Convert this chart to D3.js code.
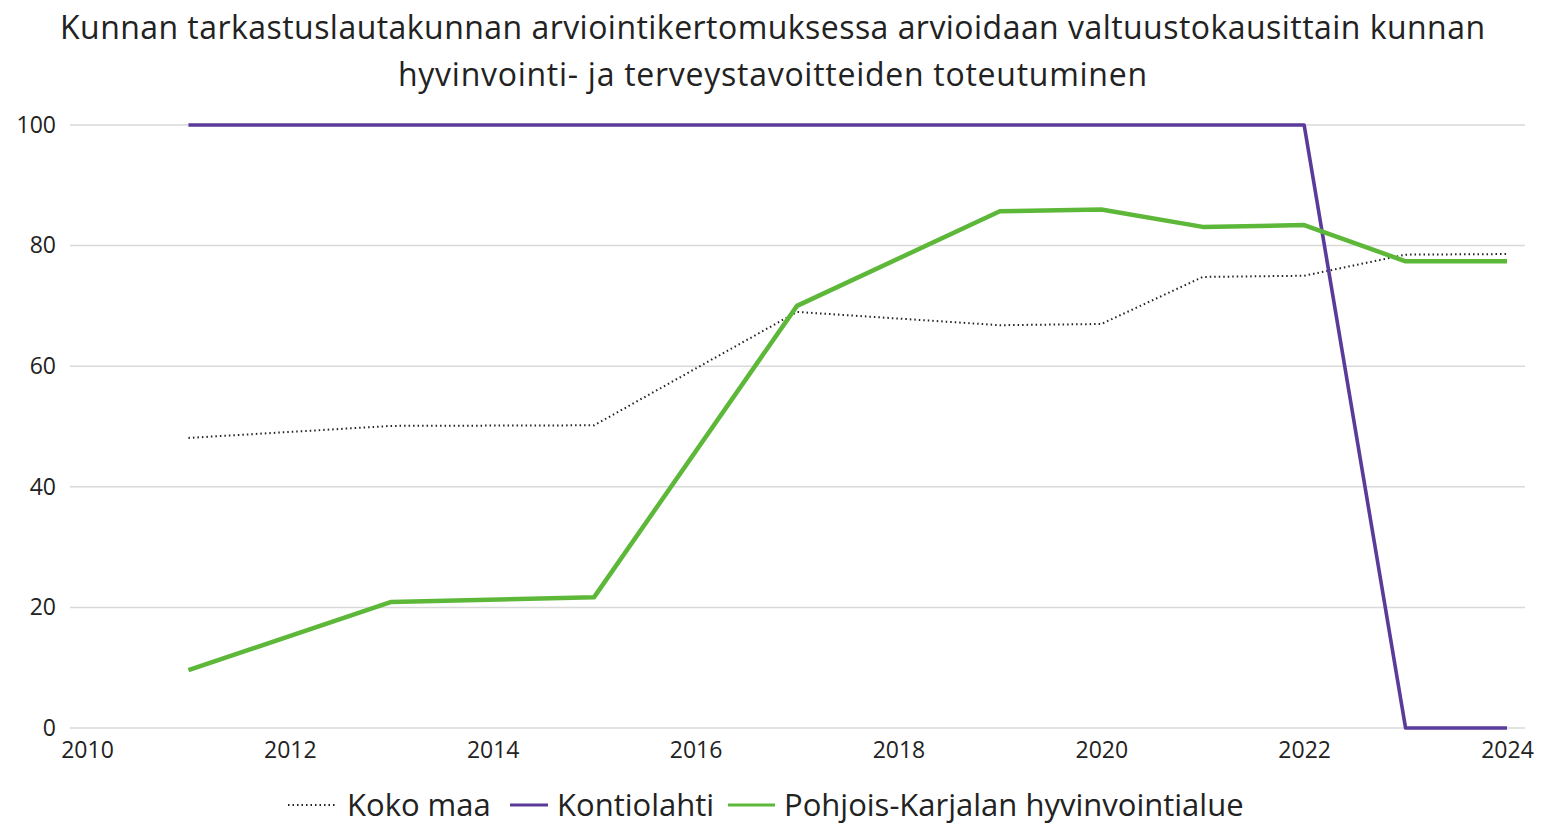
<!DOCTYPE html>
<html>
<head>
<meta charset="utf-8">
<script src="https://cdn.jsdelivr.net/npm/d3@7"></script>
<style>
  body { margin: 0; background: #fff; }
  text { font-family: "Open Sans", "Noto Sans", sans-serif; fill: #222; }
</style>
</head>
<body>
<svg id="chart_svg"></svg>
<script>
// Data
var years_koko = [2011, 2013, 2015, 2017, 2019, 2020, 2021, 2022, 2023, 2024];
var koko_maa = [48.1, 50.1, 50.2, 69.0, 66.8, 67.0, 74.8, 75.0, 78.5, 78.6];

var years_kontio = [2011, 2013, 2015, 2017, 2019, 2020, 2021, 2022, 2023, 2024];
var kontiolahti = [100, 100, 100, 100, 100, 100, 100, 100, 0, 0];

var years_pk = [2011, 2013, 2015, 2017, 2019, 2020, 2021, 2022, 2023, 2024];
var pohjois_karjala = [9.6, 20.9, 21.7, 70.0, 85.7, 86.0, 83.1, 83.4, 77.4, 77.4];

var x_ticks = [2010, 2012, 2014, 2016, 2018, 2020, 2022, 2024];
var y_ticks = [0, 20, 40, 60, 80, 100];

var title_lines = [
    "Kunnan tarkastuslautakunnan arviointikertomuksessa arvioidaan valtuustokausittain kunnan",
    "hyvinvointi- ja terveystavoitteiden toteutuminen"
];

var series = [
    { name: "Koko maa", years: years_koko, values: koko_maa, color: "#222", width: 2, dash: "1.5,3" },
    { name: "Kontiolahti", years: years_kontio, values: kontiolahti, color: "#5a3b9a", width: 3.6, dash: null },
    { name: "Pohjois-Karjalan hyvinvointialue", years: years_pk, values: pohjois_karjala, color: "#5db83a", width: 4.5, dash: null }
];

var width = 1545, height = 826;
var grid_left = 70, grid_right = 1525;

var svg = d3.select('#chart_svg')
    .attr('width', width)
    .attr('height', height);

var x = d3.scaleLinear().domain([2010, 2024]).range([87, 1507]);
var y = d3.scaleLinear().domain([0, 100]).range([728, 125]);

// Title
var title_widths = [1425, 749];
svg.selectAll('.title')
    .data(title_lines)
    .enter()
    .append('text')
      .attr('class', 'title')
      .attr('x', width / 2)
      .attr('y', function(d, i) { return 39 + i * 47; })
      .attr('text-anchor', 'middle')
      .attr('font-size', '32px')
      .attr('textLength', function(d, i) { return title_widths[i]; })
      .attr('lengthAdjust', 'spacing')
      .text(function(d) { return d; });

// Gridlines
svg.selectAll('.grid')
    .data(y_ticks)
    .enter()
    .append('line')
      .attr('x1', grid_left)
      .attr('x2', grid_right)
      .attr('y1', function(d) { return y(d); })
      .attr('y2', function(d) { return y(d); })
      .attr('stroke', '#d9d9d9')
      .attr('stroke-width', 1.5);

// Y axis labels
var yAxis = d3.axisLeft(y).tickValues(y_ticks).tickSize(0).tickPadding(0);
var gy = svg.append('g')
    .attr('transform', 'translate(56,0)')
    .call(yAxis);
gy.select('.domain').remove();
gy.selectAll('text').attr('font-size', '23px').attr('font-family', '"Open Sans", "Noto Sans", sans-serif').attr('fill', '#222');

// X axis labels
var xAxis = d3.axisBottom(x).tickValues(x_ticks).tickFormat(d3.format('d')).tickSize(0).tickPadding(0);
var gx = svg.append('g')
    .attr('transform', 'translate(0,742)')
    .call(xAxis);
gx.select('.domain').remove();
gx.selectAll('text').attr('font-size', '23px').attr('font-family', '"Open Sans", "Noto Sans", sans-serif').attr('fill', '#222');

// Lines
var line = d3.line()
    .x(function(d) { return x(d[0]); })
    .y(function(d) { return y(d[1]); });

svg.selectAll('.series')
    .data(series)
    .enter()
    .append('path')
      .attr('class', 'series')
      .attr('fill', 'none')
      .attr('stroke', function(s) { return s.color; })
      .attr('stroke-width', function(s) { return s.width; })
      .attr('stroke-dasharray', function(s) { return s.dash; })
      .attr('stroke-linejoin', 'round')
      .attr('d', function(s) { return line(d3.zip(s.years, s.values)); });

// Legend
var legend_pos = [288, 510, 728];
var legend = svg.selectAll('.legend')
    .data(series)
    .enter()
    .append('g')
      .attr('class', 'legend')
      .attr('transform', function(s, i) { return 'translate(' + legend_pos[i] + ',805)'; });
legend.append('line')
    .attr('x1', 0)
    .attr('x2', function(s, i) { return i == 0 ? 48 : (i == 1 ? 38 : 47); })
    .attr('y1', 0)
    .attr('y2', 0)
    .attr('stroke', function(s) { return s.color; })
    .attr('stroke-width', function(s, i) { return i == 0 ? 1.8 : 3; })
    .attr('stroke-dasharray', function(s) { return s.dash; });
legend.append('text')
    .attr('x', function(s, i) { return i == 0 ? 59 : (i == 1 ? 47 : 56); })
    .attr('y', 0)
    .attr('dy', '0.35em')
    .attr('font-size', '31px')
    .text(function(s) { return s.name; });
</script>
</body>
</html>
